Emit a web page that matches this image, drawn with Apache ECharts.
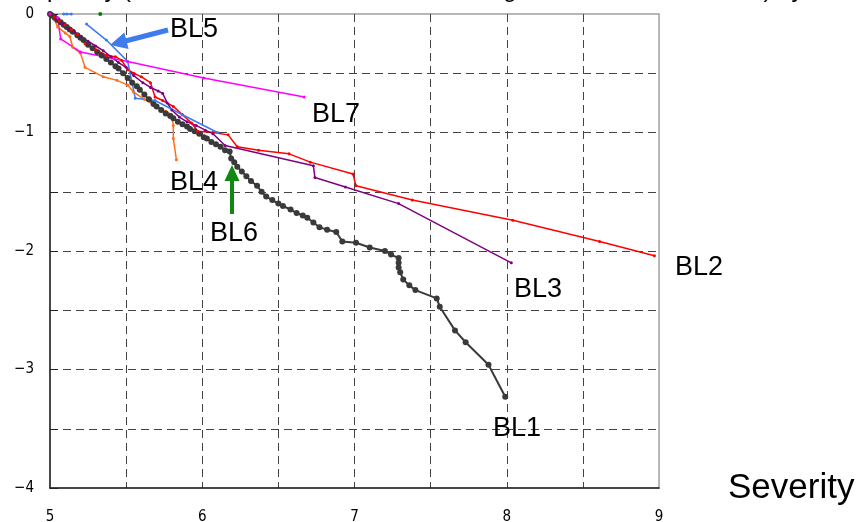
<!DOCTYPE html>
<html>
<head>
<meta charset="utf-8">
<script src="https://cdn.jsdelivr.net/npm/echarts@6/dist/echarts.min.js"></script>
<style>
  html, body { margin: 0; padding: 0; background: #fff; }
  #chart { width: 867px; height: 522px; }
</style>
</head>
<body>
<div id="chart"></div>
<script>
// Log severity (x) against log frequency (y) for each business line
const xTickLabels = ['5', '6', '7', '8', '9'];
const yTickLabels = ['0', '\u22121', '\u22122', '\u22123', '\u22124'];

const lineNames = ['BL1', 'BL2', 'BL3', 'BL4', 'BL5', 'BL6', 'BL7'];

const bl1 = [
  [5.00, 0], [5.01, -0.01], [5.03, -0.03], [5.05, -0.05], [5.07, -0.07], [5.09, -0.09],
  [5.11, -0.11], [5.13, -0.13], [5.15, -0.15], [5.18, -0.18], [5.20, -0.20], [5.22, -0.22],
  [5.25, -0.26], [5.28, -0.29], [5.31, -0.32], [5.34, -0.35], [5.37, -0.38], [5.40, -0.41],
  [5.43, -0.44], [5.45, -0.46], [5.48, -0.50], [5.51, -0.54], [5.54, -0.58], [5.57, -0.61],
  [5.59, -0.64], [5.62, -0.68], [5.65, -0.72], [5.68, -0.76], [5.70, -0.78], [5.73, -0.81],
  [5.76, -0.84], [5.79, -0.86], [5.81, -0.88], [5.84, -0.91], [5.87, -0.93], [5.90, -0.95],
  [5.92, -0.97], [5.95, -0.99], [5.98, -1.01], [6.01, -1.04], [6.03, -1.05], [6.06, -1.08],
  [6.09, -1.10], [6.12, -1.12], [6.15, -1.15], [6.18, -1.16], [6.19, -1.22], [6.21, -1.25],
  [6.23, -1.29], [6.26, -1.33], [6.29, -1.37], [6.32, -1.41], [6.36, -1.45], [6.39, -1.50],
  [6.42, -1.54], [6.46, -1.57], [6.50, -1.60], [6.53, -1.62], [6.58, -1.65], [6.62, -1.68],
  [6.66, -1.70], [6.69, -1.72], [6.73, -1.76], [6.77, -1.80], [6.82, -1.82], [6.88, -1.84],
  [6.92, -1.92], [7.01, -1.93], [7.10, -1.97], [7.20, -2.00], [7.24, -2.03], [7.29, -2.06],
  [7.29, -2.10], [7.29, -2.14], [7.30, -2.18], [7.32, -2.24], [7.36, -2.29], [7.40, -2.33],
  [7.54, -2.40], [7.56, -2.47], [7.66, -2.67], [7.73, -2.77], [7.88, -2.96], [7.99, -3.23]
];

const bl2 = [
  [5.00, 0], [5.03, -0.03], [5.06, -0.06], [5.10, -0.09], [5.14, -0.13], [5.18, -0.17],
  [5.23, -0.25], [5.30, -0.30], [5.37, -0.35], [5.43, -0.36], [5.47, -0.39], [5.51, -0.47],
  [5.55, -0.50], [5.60, -0.53], [5.66, -0.58], [5.69, -0.70], [5.74, -0.73], [5.81, -0.78],
  [5.87, -0.85], [5.93, -0.92], [5.97, -0.99], [6.07, -1.00], [6.17, -1.02], [6.23, -1.12],
  [6.37, -1.15], [6.57, -1.18], [6.71, -1.25], [6.99, -1.35], [7.01, -1.45], [7.38, -1.57],
  [8.04, -1.74], [8.61, -1.92], [8.97, -2.04]
];

const bl3 = [
  [5.00, 0], [5.04, -0.04], [5.08, -0.08], [5.12, -0.12], [5.16, -0.15], [5.20, -0.19],
  [5.25, -0.23], [5.30, -0.27], [5.35, -0.31], [5.40, -0.36], [5.45, -0.41], [5.50, -0.45],
  [5.55, -0.52], [5.61, -0.58], [5.66, -0.62], [5.71, -0.65], [5.74, -0.67], [5.77, -0.75],
  [5.80, -0.81], [5.85, -0.87], [5.90, -0.91], [5.96, -0.94], [6.02, -0.98], [6.07, -1.01],
  [6.15, -1.11], [6.73, -1.28], [6.74, -1.38], [6.94, -1.46], [7.29, -1.60], [8.03, -2.10]
];

const bl4 = [
  [5.00, 0], [5.03, -0.05], [5.05, -0.11], [5.10, -0.16], [5.13, -0.19], [5.15, -0.28],
  [5.20, -0.33], [5.23, -0.45], [5.35, -0.53], [5.44, -0.56], [5.51, -0.60], [5.55, -0.66],
  [5.62, -0.72], [5.70, -0.78], [5.76, -0.82], [5.80, -0.85], [5.81, -0.94], [5.81, -1.05],
  [5.83, -1.23]
];

const bl5 = [
  [5.09, 0], [5.11, 0], [5.14, 0], '-',
  [5.24, -0.085], [5.37, -0.22], [5.51, -0.40], [5.56, -0.71], [5.69, -0.73], [5.87, -0.85],
  [6.10, -1.00]
];

const bl6 = [[5.33, 0]];

const bl7 = [
  [5.00, 0], [5.05, -0.03], [5.07, -0.21], [5.20, -0.32], [5.51, -0.40], [6.01, -0.54],
  [6.67, -0.70]
];

const lineColors = {
  BL1: '#3a3a3a', BL2: '#ff0000', BL3: '#800080', BL4: '#ff6f1a',
  BL5: '#3d7bef', BL6: '#008000', BL7: '#ff00ff'
};

const tickFont = "'Liberation Sans Narrow', 'DejaVu Sans Condensed', 'Liberation Sans', sans-serif";
const textFont = "'Liberation Sans', Arial, sans-serif";

function lineSeries(name, data, opts) {
  return Object.assign({
    name: name,
    type: 'line',
    data: data,
    symbol: 'circle',
    symbolSize: 3,
    showSymbol: true,
    animation: false,
    connectNulls: false,
    color: lineColors[name],
    itemStyle: { color: lineColors[name] },
    lineStyle: { color: lineColors[name], width: 1.5 },
    emphasis: { disabled: true }
  }, opts || {});
}

// Build an arrow polygon from its tail to its tip
function arrowPoints(tail, tip, shaft, headLen, headWid) {
  const dx = tip[0] - tail[0], dy = tip[1] - tail[1];
  const len = Math.sqrt(dx * dx + dy * dy);
  const ux = dx / len, uy = dy / len;
  const nx = -uy, ny = ux;
  const bx = tip[0] - ux * headLen, by = tip[1] - uy * headLen;
  return [
    [tail[0] + nx * shaft / 2, tail[1] + ny * shaft / 2],
    [bx + nx * shaft / 2, by + ny * shaft / 2],
    [bx + nx * headWid / 2, by + ny * headWid / 2],
    tip,
    [bx - nx * headWid / 2, by - ny * headWid / 2],
    [bx - nx * shaft / 2, by - ny * shaft / 2],
    [tail[0] - nx * shaft / 2, tail[1] - ny * shaft / 2]
  ];
}

function label(text, x, y, size) {
  return {
    type: 'text', left: x, top: y, z: 20,
    style: { text: text, font: (size || 27) + 'px ' + textFont, fill: '#000' }
  };
}

const chart = echarts.init(document.getElementById('chart'), null, { renderer: 'canvas' });

chart.setOption({
  animation: false,
  backgroundColor: '#fff',
  grid: {
    left: 50, right: 208, top: 14, bottom: 34,
    outerBoundsMode: 'none', containLabel: false,
    show: true, borderColor: '#a0a0a0', borderWidth: 1.5, backgroundColor: 'transparent'
  },
  xAxis: {
    type: 'value', min: 5, max: 9, interval: 0.5,
    name: 'Severity', nameLocation: 'end', nameGap: 69,
    nameTextStyle: { fontFamily: textFont, fontSize: 35, color: '#000', verticalAlign: 'middle', padding: [4, 0, 0, 0] },
    axisLine: { show: true, onZero: false, lineStyle: { color: '#222', width: 1.5 } },
    axisTick: { show: false },
    axisLabel: {
      margin: 22, fontFamily: tickFont, fontSize: 15, color: '#000',
      formatter: v => (Number.isInteger(v) ? xTickLabels[v - 5] : '')
    },
    splitLine: {
      show: true, showMinLine: false, showMaxLine: false,
      lineStyle: { type: [8, 5], color: '#444', width: 1 }
    }
  },
  yAxis: {
    type: 'value', min: -4, max: 0, interval: 0.5,
    axisLine: { show: true, onZero: false, lineStyle: { color: '#222', width: 1.5 } },
    axisTick: { show: true, inside: true, length: 8, lineStyle: { color: '#222', width: 1 } },
    axisLabel: {
      margin: 16, fontFamily: tickFont, fontSize: 15, color: '#000',
      formatter: v => (Number.isInteger(v) ? yTickLabels[-v] : '')
    },
    splitLine: {
      show: true, showMinLine: false, showMaxLine: false,
      lineStyle: { type: [8, 5], color: '#444', width: 1 }
    }
  },
  series: [
    lineSeries('BL4', bl4),
    lineSeries('BL1', bl1, { symbolSize: 6, lineStyle: { color: lineColors.BL1, width: 2 } }),
    lineSeries('BL2', bl2),
    lineSeries('BL3', bl3),
    lineSeries('BL5', bl5),
    lineSeries('BL6', bl6, { symbolSize: 4 }),
    lineSeries('BL7', bl7)
  ],
  graphic: [
    {
      type: 'text', left: 3, top: -22, z: 20,
      style: {
        text: 'Frequency (Share of losses above a level in Log scale of the total count) by BL',
        font: '24px ' + textFont, fill: '#000'
      }
    },
    {
      type: 'polygon', z: 19,
      shape: { points: arrowPoints([168, 30], [110, 45], 5, 17, 17) },
      style: { fill: '#3d7bef' }
    },
    {
      type: 'polygon', z: 19,
      shape: { points: arrowPoints([232, 214], [232, 165], 4, 16, 15) },
      style: { fill: '#118811' }
    },
    label('BL5', 170, 16),
    label('BL7', 312, 101),
    label('BL4', 170, 169),
    label('BL6', 210, 220),
    label('BL3', 514, 276),
    label('BL2', 675, 254),
    label('BL1', 493, 415)
  ]
});
</script>
</body>
</html>
